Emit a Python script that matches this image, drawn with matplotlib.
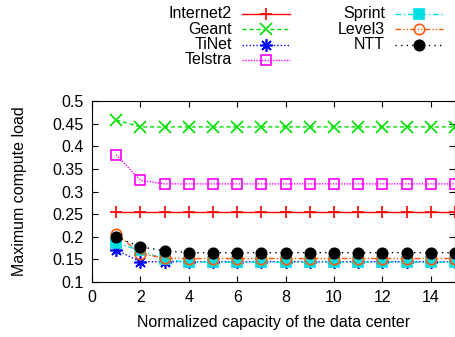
import matplotlib
matplotlib.use("Agg")
import matplotlib.pyplot as plt
from matplotlib.lines import Line2D

plt.rcParams['font.family'] = ['Liberation Sans', 'DejaVu Sans']

capacity = list(range(1, 16))

internet2 = [0.255] * 15
geant = [0.458] + [0.443] * 14
tinet = [0.171] + [0.145] * 14
telstra = [0.381, 0.325] + [0.317] * 13
sprint = [0.186, 0.170, 0.150] + [0.144] * 12
level3 = [0.207, 0.163, 0.153] + [0.152] * 12
ntt = [0.199, 0.178, 0.169] + [0.165] * 12

# name, values, color, marker, linestyle, filled
series = [
    ("Internet2", internet2, "#ff0000", "+", "-", False),
    ("Geant", geant, "#00e000", "x", (0, (3, 2)), False),
    ("TiNet", tinet, "#0000ff", (8, 2, 0), (0, (1, 1.5)), False),
    ("Telstra", telstra, "#ff00ff", "s", (0, (1, 1)), False),
    ("Sprint", sprint, "#00e0e0", "s", (0, (4, 2, 1, 2)), True),
    ("Level3", level3, "#ff5a10", "o", (0, (4, 1.5, 1, 1.5, 1, 1.5)), False),
    ("NTT", ntt, "#000000", "o", (0, (1, 3)), True),
]

FS = 11.5

fig = plt.figure(figsize=(4.56, 3.37), dpi=100)
ax = fig.add_axes([0.2018, 0.163, 0.7962, 0.537])

def style(color, marker, ls, filled):
    size = 7.5 if marker in ("s", "o") else 9
    kw = dict(color=color, marker=marker, linestyle=ls, linewidth=1.0,
              markersize=size, markeredgewidth=1.2)
    kw["markerfacecolor"] = color if filled else "none"
    return kw

for name, vals, color, marker, ls, filled in series:
    ax.plot(capacity, vals, **style(color, marker, ls, filled))

ax.set_xlim(0, 15)
ax.set_ylim(0.1, 0.5)
ax.set_xticks(range(0, 15, 2))
ax.set_yticks([0.1, 0.15, 0.2, 0.25, 0.3, 0.35, 0.4, 0.45, 0.5])
ax.set_yticklabels(["0.1", "0.15", "0.2", "0.25", "0.3", "0.35", "0.4", "0.45", "0.5"])
ax.tick_params(direction="in", top=True, right=True, labelsize=FS, length=4, pad=6)
ax.set_xlabel("Normalized capacity of the data center", fontsize=FS, labelpad=7)
ax.set_ylabel("Maximum compute load", fontsize=FS, labelpad=18)

# gnuplot-style key above the plot: right-aligned text then sample
W, H = 456.0, 337.0
cols = [(232, 242, 290), (385, 395, 443)]
rows = [13.5, 29, 44.5, 60]
for i, (name, vals, color, marker, ls, filled) in enumerate(series):
    col = 0 if i < 4 else 1
    row = i if i < 4 else i - 4
    tx, x0, x1 = cols[col]
    y = 1 - rows[row] / H
    fig.text(tx / W, y, name, ha="right", va="center", fontsize=FS)
    fig.add_artist(Line2D([x0 / W, x1 / W], [y, y], transform=fig.transFigure,
                          color=color, linestyle=ls, linewidth=1.0))
    kw = style(color, marker, "none", filled)
    fig.add_artist(Line2D([(x0 + x1) / 2 / W], [y], transform=fig.transFigure, **kw))

fig.savefig("out.png", dpi=100)
